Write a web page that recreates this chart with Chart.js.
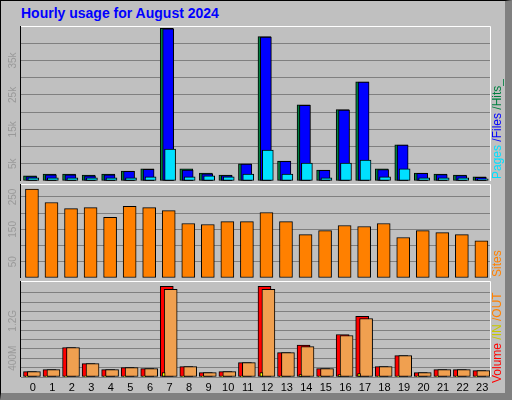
<!DOCTYPE html>
<html><head><meta charset="utf-8">
<script src="https://cdn.jsdelivr.net/npm/chart.js@4"></script>
<style>
html,body{margin:0;padding:0;}
body{width:512px;height:400px;background:#c0c0c0;position:relative;overflow:hidden;font-family:"Liberation Sans",Arial,sans-serif;}
#frame{position:absolute;left:0;top:0;width:504px;height:392px;border:1px solid #000;border-right:7px solid #808080;border-bottom:7px solid #808080;box-sizing:content-box;}
#title{position:absolute;left:21px;top:5px;font-weight:bold;font-size:14px;color:#0000ff;}
canvas{position:absolute;left:0;}
</style></head><body>
<div id="frame"></div>
<div id="title">Hourly usage for August 2024</div>
<canvas id="c1" style="top:26px" width="512" height="155"></canvas>
<canvas id="c2" style="top:184px" width="512" height="94"></canvas>
<canvas id="c3" style="top:281px" width="512" height="114"></canvas>
<script>
const hours = [0,1,2,3,4,5,6,7,8,9,10,11,12,13,14,15,16,17,18,19,20,21,22,23];
const hits  = [1500,2000,2000,1700,2000,2900,3500,44300,3500,2300,1700,5000,41900,5800,22100,3200,20700,28800,3500,10500,2300,2000,1700,1200];
const files = [1300,1800,1800,1500,1800,2800,3400,44200,3200,2100,1600,4900,41800,5700,22000,3100,20600,28700,3300,10400,2200,1900,1600,1100];
const pages = [900,900,900,900,900,900,1200,9300,1200,1500,1200,2000,9000,2000,5200,900,5200,6100,1200,3500,900,900,900,600];
const sites = [274,233,214,217,187,221,217,208,168,165,174,174,202,174,134,146,162,159,168,125,146,140,134,115];
const volume = [114,157,629,286,157,200,179,1936,221,93,114,307,1936,521,679,179,907,1293,221,457,93,157,157,136];
const volOut = [114,157,629,286,157,200,179,1871,221,93,114,307,1871,521,650,179,886,1250,221,457,93,157,157,136];
const volIn  = [5,5,5,5,5,5,5,93,5,5,5,5,93,5,50,5,50,71,5,5,5,5,5,5];
const ticks1 = [[5000,'5k'],[15000,'15k'],[25000,'25k'],[35000,'35k']];
const ticks2 = [[50,'50'],[150,'150'],[250,'250']];
const ticks3 = [[400,'400M'],[1200,'1.2G']];

const FONT='"Liberation Sans",Arial,sans-serif';
function pts(arr,off){return arr.map((v,i)=>({x:hours[i]+off,y:v}));}
function ds(arr,off,color,w,order){return {data:pts(arr,off),backgroundColor:color,borderColor:'#000',borderWidth:1,borderSkipped:false,barThickness:w,order:order,grouped:false};}

function deco(yticks,legend,xlabels){return {id:'deco',
  afterDraw(c){const ctx=c.ctx,a=c.chartArea,y=c.scales.y,x=c.scales.x;
    ctx.save();
    ctx.strokeStyle='#fff';ctx.lineWidth=1;
    ctx.beginPath();ctx.moveTo(a.left,a.top+0.5);ctx.lineTo(a.right+0.5,a.top+0.5);ctx.lineTo(a.right+0.5,a.bottom);ctx.stroke();
    ctx.strokeStyle='#000';ctx.beginPath();ctx.moveTo(a.left-0.5,a.top);ctx.lineTo(a.left-0.5,a.bottom);ctx.stroke();
    ctx.font='10px '+FONT;ctx.fillStyle='#999';ctx.textAlign='center';ctx.textBaseline='middle';
    yticks.forEach(([v,t])=>{ctx.save();ctx.translate(13,y.getPixelForValue(v));ctx.rotate(-Math.PI/2);ctx.fillText(t,0,0);ctx.restore();});
    if(xlabels){ctx.font='11px '+FONT;ctx.fillStyle='#000';
      hours.forEach(h=>ctx.fillText(String(h),x.getPixelForValue(h+0.1),a.bottom+11));}
    ctx.font='12px '+FONT;ctx.textAlign='left';
    ctx.save();ctx.translate(498,legend.y);ctx.rotate(-Math.PI/2);
    let p=0;legend.parts.forEach(([t,col])=>{ctx.fillStyle=col;ctx.fillText(t,p,0);p+=ctx.measureText(t).width;});
    ctx.restore();
    ctx.restore();}};}

function opts(max,step,bottom){return {responsive:false,animation:false,
  layout:{padding:{left:21,right:22,top:0,bottom:bottom}},
  plugins:{legend:{display:false},tooltip:{enabled:false}},
  scales:{
    x:{type:'linear',min:-0.5,max:23.5,offset:false,display:false},
    y:{min:0,max:max,ticks:{display:false,stepSize:step},grid:{color:'#808080',drawTicks:false},border:{display:false},afterFit:s=>{s.width=0;}}
  }};}

new Chart(document.getElementById('c1'),{type:'bar',
  data:{datasets:[ds(hits,-0.04,'#008040',13,2),ds(files,0.03,'#0000ff',11,1),ds(pages,0.13,'#00e0ff',11,0)]},
  options:opts(45000,5000,0),
  plugins:[deco(ticks1,{y:153,parts:[['Pages','#00e0ff'],[' /Files','#0000ff'],[' /Hits_','#008040']]},false)]});

new Chart(document.getElementById('c2'),{type:'bar',
  data:{datasets:[ds(sites,0.06,'#ff8000',13,0)]},
  options:opts(290,50,0),
  plugins:[deco(ticks2,{y:93,parts:[['Sites','#ff8000']]},false)]});

new Chart(document.getElementById('c3'),{type:'bar',
  data:{datasets:[ds(volume,-0.04,'#ff0000',13,2),ds(volOut,0.16,'#f0a050',13,1),ds(volIn,-0.2,'#ffff00',3,0)]},
  options:opts(2050,200,18),
  plugins:[deco(ticks3,{y:102,parts:[['Volume','#ff0000'],[' /IN','#c8c800'],[' /OUT','#ff8000']]},true)]});
</script>
</body></html>
